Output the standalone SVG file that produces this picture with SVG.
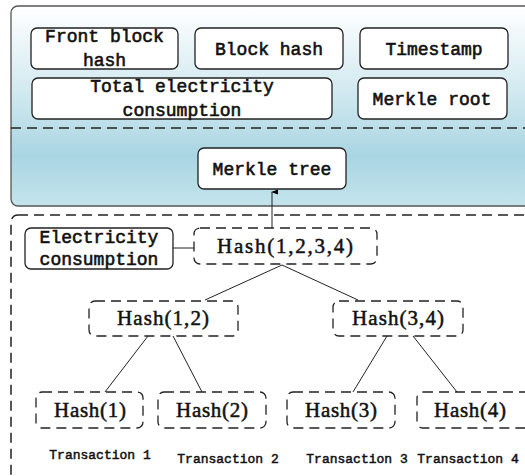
<svg xmlns="http://www.w3.org/2000/svg" width="525" height="476" viewBox="0 0 525 476">
<defs>
<linearGradient id="bg" x1="0" y1="0" x2="0" y2="1">
<stop offset="0" stop-color="#ffffff"/>
<stop offset="0.45" stop-color="#cfe8ef"/>
<stop offset="0.75" stop-color="#a9d5e2"/>
<stop offset="1" stop-color="#c4e4ec"/>
</linearGradient>
<marker id="arr" markerWidth="8" markerHeight="8" refX="4" refY="1" orient="auto-start-reverse" markerUnits="userSpaceOnUse" viewBox="0 0 8 8">
<path d="M1.5,7 L4,0 L6.5,7 Z" fill="#000"/>
</marker>
<style>
.box{fill:#fff;stroke:#222;stroke-width:1.3}
.dbox{fill:#fff;stroke:#222;stroke-width:1.3;stroke-dasharray:10 6}
.t{font-family:"Liberation Mono","DejaVu Sans Mono",monospace;font-size:18px;fill:#111;text-anchor:middle;stroke:#111;stroke-width:0.6}
.h{font-family:"Liberation Serif","DejaVu Serif",serif;font-size:21px;fill:#111;text-anchor:middle;stroke:#111;stroke-width:0.5}
.tr{font-family:"Liberation Mono","DejaVu Sans Mono",monospace;font-size:13px;fill:#111;text-anchor:middle;stroke:#111;stroke-width:0.5}
.ln{stroke:#222;stroke-width:1;fill:none}
.dl{stroke:#222;stroke-width:1.5;fill:none;stroke-dasharray:10 6}
</style>
</defs>
<g id="block">
<rect x="11" y="6" width="530" height="200" rx="7" fill="url(#bg)" stroke="#555" stroke-width="1.3"/>
<line class="dl" x1="11" y1="128" x2="525" y2="128"/>
</g>
<g id="tx-area">
<rect x="11" y="215" width="530" height="280" rx="7" class="dl"/>
</g>
<g id="front-block-hash">
<rect class="box" x="31" y="28" width="147" height="41" rx="6"/>
<text class="t" x="104.5" y="42">Front block</text>
<text class="t" x="104.5" y="66">hash</text>
</g>
<g id="block-hash">
<rect class="box" x="195" y="28" width="148" height="41" rx="6"/>
<text class="t" x="269" y="55">Block hash</text>
</g>
<g id="timestamp">
<rect class="box" x="360" y="28" width="148" height="41" rx="6"/>
<text class="t" x="434" y="55">Timestamp</text>
</g>
<g id="total-electricity">
<rect class="box" x="32" y="78" width="300" height="41" rx="6"/>
<text class="t" x="182" y="92">Total electricity</text>
<text class="t" x="182" y="116">consumption</text>
</g>
<g id="merkle-root">
<rect class="box" x="358" y="78" width="149" height="41" rx="6"/>
<text class="t" x="432" y="105">Merkle root</text>
</g>
<g id="merkle-tree">
<rect class="box" x="198" y="148" width="148" height="41" rx="6"/>
<text class="t" x="272" y="175">Merkle tree</text>
</g>
<g id="electricity-consumption">
<rect class="box" x="25" y="228" width="148" height="41" rx="6"/>
<text class="t" x="99" y="243">Electricity</text>
<text class="t" x="99" y="265">consumption</text>
</g>
<g id="hash1234">
<rect class="dbox" x="194" y="228" width="183" height="36" rx="6"/>
<text class="h" x="285" y="253" textLength="136" lengthAdjust="spacing">Hash(1,2,3,4)</text>
</g>
<g id="hash12">
<rect class="dbox" x="89" y="301" width="149" height="35" rx="6"/>
<text class="h" x="163" y="325" textLength="92" lengthAdjust="spacing">Hash(1,2)</text>
</g>
<g id="hash34">
<rect class="dbox" x="333" y="301" width="130" height="35" rx="6"/>
<text class="h" x="398" y="325" textLength="92" lengthAdjust="spacing">Hash(3,4)</text>
</g>
<g id="hash1">
<rect class="dbox" x="36" y="392" width="107" height="36" rx="6"/>
<text class="h" x="90" y="417" textLength="72" lengthAdjust="spacing">Hash(1)</text>
</g>
<g id="hash2">
<rect class="dbox" x="158" y="392" width="108" height="36" rx="6"/>
<text class="h" x="212" y="417" textLength="72" lengthAdjust="spacing">Hash(2)</text>
</g>
<g id="hash3">
<rect class="dbox" x="287" y="392" width="108" height="36" rx="6"/>
<text class="h" x="341" y="417" textLength="72" lengthAdjust="spacing">Hash(3)</text>
</g>
<g id="hash4">
<rect class="dbox" x="417" y="392" width="114" height="36" rx="6"/>
<text class="h" x="470" y="417" textLength="72" lengthAdjust="spacing">Hash(4)</text>
</g>
<g id="labels">
<text class="tr" x="100" y="459">Transaction 1</text>
<text class="tr" x="228" y="463">Transaction 2</text>
<text class="tr" x="357" y="463">Transaction 3</text>
<text class="tr" x="468" y="463">Transaction 4</text>
</g>
<g id="connectors">
<line class="ln" x1="272" y1="228" x2="272" y2="192" marker-end="url(#arr)"/>
<line class="ln" x1="173" y1="248" x2="194" y2="248"/>
<line class="ln" x1="282" y1="265" x2="205" y2="300"/>
<line class="ln" x1="282" y1="265" x2="358" y2="300"/>
<line class="ln" x1="148" y1="336" x2="105" y2="392"/>
<line class="ln" x1="173" y1="336" x2="202" y2="392"/>
<line class="ln" x1="387" y1="336" x2="353" y2="392"/>
<line class="ln" x1="413" y1="336" x2="457" y2="392"/>
</g>
</svg>
